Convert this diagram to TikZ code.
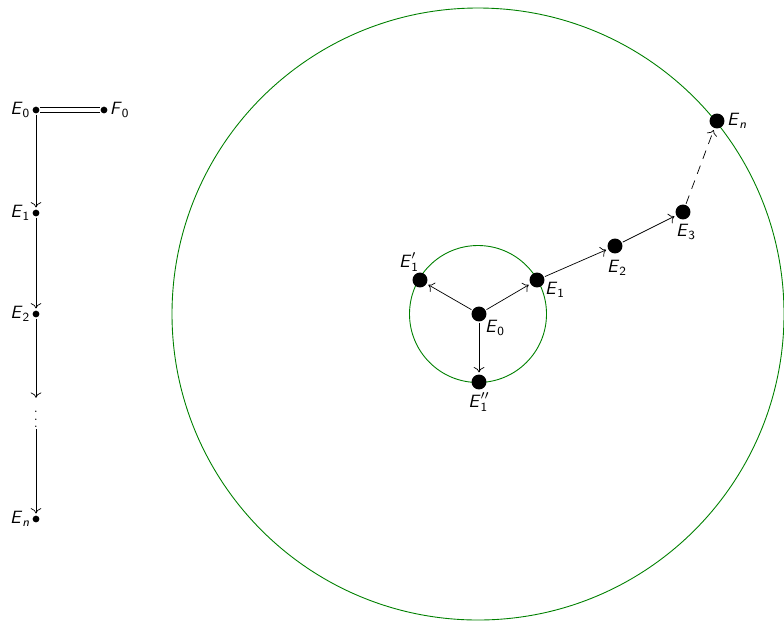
\documentclass[tikz,border=0pt]{standalone}
\usepackage{amsmath}
\usetikzlibrary{arrows.meta}
\newcommand\sE{\textsf{\textit{E}}}
\newcommand\sF{\textsf{\textit{F}}}
\newcommand\sd[1]{\textsf{#1}}
\begin{document}
\begin{tikzpicture}[x=0.5625pt,y=-0.5625pt,
  sdot/.style={circle,fill,inner sep=0pt,minimum size=3.8pt},
  bdot/.style={circle,fill,inner sep=0pt,minimum size=8.4pt},
  arr/.style={-{Computer Modern Rightarrow[length=3pt,width=6pt]},shorten >=1pt,shorten <=0.5pt},
  lbl/.style={inner sep=1pt},
  ring/.style={draw=green!50!black,line width=0.5pt}]
\useasboundingbox (0,0) rectangle (784,621);
% left chain
\node[sdot,label={[lbl]left:$\sE_{\sd{0}}$}] (a0) at (36,110) {};
\node[sdot,label={[lbl]right:$\sF_{\sd{0}}$}] (f0) at (104,110) {};
\node[sdot,label={[lbl]left:$\sE_{\sd{1}}$}] (a1) at (36,213) {};
\node[sdot,label={[lbl]left:$\sE_{\sd{2}}$}] (a2) at (36,314) {};
\node[inner sep=0.5pt,font=\scriptsize] (ad) at (36,414) {$\vdots$};
\node[sdot,label={[lbl]left:$\sE_{\sd{\textit{n}}}$}] (an) at (36,519) {};
\draw[double,double distance=2.4pt] (a0) -- (f0);
\draw[arr] (a0) -- (a1);
\draw[arr] (a1) -- (a2);
\draw[arr] (a2) -- (ad);
\draw[arr] (ad) -- (an);
% circles
\coordinate (c) at (478,314);
\draw[ring] (c) circle[radius=306];
\draw[ring] (c) circle[radius=68.5];
% right graph
\node[bdot] (b0) at (479,314) {};
\node[bdot] (b1p) at (420,280) {};
\node[bdot] (b1) at (537,280) {};
\node[bdot] (b1pp) at (479,382) {};
\node[bdot] (b2) at (615,246) {};
\node[bdot] (b3) at (683,212) {};
\node[bdot] (bn) at (717,121) {};
\node[lbl] (t1p) at (409,262) {$\sE_{\sd{1}}'$};
\node[lbl] (t1) at (555,290) {$\sE_{\sd{1}}$};
\node[lbl] (t0) at (495,328) {$\sE_{\sd{0}}$};
\node[lbl] (t1pp) at (479,402) {$\sE_{\sd{1}}''$};
\node[lbl] (t2) at (617,268) {$\sE_{\sd{2}}$};
\node[lbl] (t3) at (686,232) {$\sE_{\sd{3}}$};
\node[lbl] (tn) at (737,121) {$\sE_{\sd{\textit{n}}}$};
\draw[arr] (b0) -- (b1p);
\draw[arr] (b0) -- (b1);
\draw[arr] (b0) -- (b1pp);
\draw[arr] (b1) -- (b2);
\draw[arr] (b2) -- (b3);
\draw[arr,dashed,dash pattern=on 5pt off 4pt] (b3) -- (bn);
\end{tikzpicture}
\end{document}
